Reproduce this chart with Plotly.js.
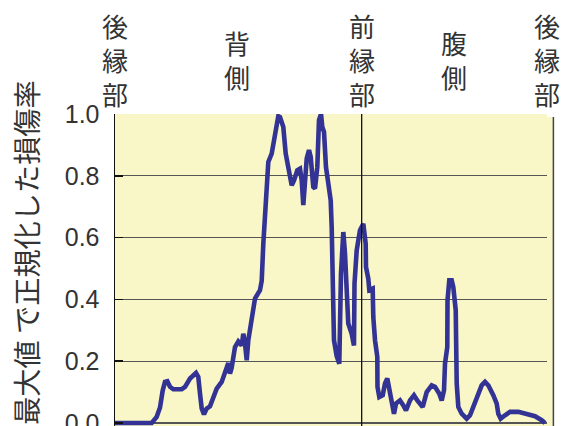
<!DOCTYPE html>
<html>
<head>
<meta charset="utf-8">
<script src="https://cdn.plot.ly/plotly-3.0.1.min.js"></script>
<style>
  html, body { margin: 0; padding: 0; background: #ffffff; }
  #chart { width: 571px; height: 426px; }
</style>
</head>
<body>
<div id="chart"></div>
<script>
// Position along the blade surface (% of total perimeter, trailing edge -> suction side -> leading edge -> pressure side -> trailing edge)
const position = [
  0, 8.5, 9.65, 10.42, 11.04, 11.57, 12.11, 12.73, 13.5, 15.44,
  16.2, 17.36, 18.75, 19.28, 19.68, 20.07, 20.6, 21.23, 21.99, 22.92,
  23.54, 24.7, 25.69, 26.23, 26.62, 27.01, 27.78, 28.54, 29.33, 29.7,
  30.09, 30.49, 30.86, 31.64, 32.41, 33.56, 33.96, 34.33, 34.65, 35.02,
  35.49, 36.27, 37.04, 37.8, 38.19, 38.96, 39.51, 40.35, 40.9, 41.44,
  42.2, 42.82, 43.22, 43.59, 43.98, 44.38, 44.91, 45.3, 45.9, 46.3,
  46.83, 47.22, 47.69, 47.99, 48.38, 48.84, 49.38, 49.93, 50.16, 50.39,
  50.69, 51.32, 51.92, 52.31, 52.85, 53.24, 53.63, 54.0, 54.79, 55.32,
  55.44, 55.95, 56.71, 57.48, 58.03, 58.1, 58.63, 58.87, 59.65, 59.79,
  60.19, 60.72, 60.76, 61.18, 61.97, 62.5, 63.03, 63.5, 64.05, 64.58,
  65.05, 65.97, 66.74, 67.36, 68.29, 69.21, 69.98, 71.23, 72.15, 73.31,
  74.07, 75.07, 75.62, 76.16, 76.39, 76.92, 76.97, 77.38, 77.94, 78.31,
  78.87, 78.89, 79.1, 79.47, 80.25, 81.41, 82.18, 82.94, 84.1, 84.88,
  85.65, 86.41, 87.57, 88.36, 88.73, 89.28, 90.28, 91.44, 93.36, 95.3,
  97.22, 98.77, 99.54
];

// Damage rate normalised by its maximum
const damage = [
  0, 0, 0.02, 0.05, 0.105, 0.133, 0.135, 0.117, 0.109, 0.109,
  0.117, 0.144, 0.162, 0.149, 0.095, 0.047, 0.028, 0.047, 0.054, 0.084,
  0.111, 0.133, 0.168, 0.194, 0.16, 0.179, 0.246, 0.264, 0.251, 0.289,
  0.257, 0.203, 0.268, 0.343, 0.403, 0.43, 0.46, 0.58, 0.64, 0.72,
  0.845, 0.872, 0.926, 0.993, 0.99, 0.958, 0.872, 0.812, 0.769, 0.785,
  0.818, 0.823, 0.785, 0.705, 0.775, 0.856, 0.883, 0.861, 0.764, 0.759,
  0.828, 0.98, 1.0, 0.958, 0.942, 0.828, 0.775, 0.72, 0.634, 0.397,
  0.268, 0.216, 0.192, 0.483, 0.618, 0.548, 0.451, 0.322, 0.289, 0.251,
  0.451, 0.559, 0.624, 0.645, 0.58, 0.505, 0.467, 0.43, 0.435, 0.343,
  0.268, 0.214, 0.117, 0.084, 0.09, 0.128, 0.144, 0.106, 0.063, 0.03,
  0.063, 0.073, 0.057, 0.041, 0.073, 0.09, 0.073, 0.052, 0.1, 0.122,
  0.117, 0.095, 0.073, 0.106, 0.192, 0.246, 0.397, 0.462, 0.462, 0.44,
  0.365, 0.235, 0.128, 0.052, 0.03, 0.014, 0.025, 0.052, 0.09, 0.122,
  0.133, 0.122, 0.09, 0.063, 0.03, 0.014, 0.025, 0.036, 0.036, 0.03,
  0.022, 0.009, 0.0
];

// Surface region labels along the top and where they sit
const regionLabels = ['後<br>縁<br>部', '背<br>側', '前<br>縁<br>部', '腹<br>側', '後<br>縁<br>部'];
const regionPositions = [0, 28.2, 57.1, 78.5, 100];
const leadingEdge = 57.1;

const yTickValues = [0, 0.2, 0.4, 0.6, 0.8, 1.0];
const yTickLabels = ['0.0', '0.2', '0.4', '0.6', '0.8', '1.0'];
const yTitle = '最大値 で正規化した損傷率';

const cjkFont = '"Noto Sans CJK JP", "Noto Sans", sans-serif';
const numFont = '"Liberation Sans", Arial, sans-serif';
const textColor = '#333333';
const fillYellow = '#f9f6c7';

const trace = {
  x: position,
  y: damage,
  type: 'scatter',
  mode: 'lines',
  line: { color: '#323394', width: 4.6 },
  hoverinfo: 'skip',
  cliponaxis: false
};

const annotations = regionLabels.map((t, i) => ({
  text: t,
  x: regionPositions[i],
  xref: 'x',
  y: 1.176,
  yref: 'paper',
  xanchor: 'center',
  yanchor: 'middle',
  showarrow: false,
  font: { family: cjkFont, size: 26, color: textColor }
}));

annotations.push({
  text: yTitle,
  textangle: -90,
  x: -0.206,
  xref: 'paper',
  y: 0.555,
  yref: 'paper',
  xanchor: 'center',
  yanchor: 'middle',
  showarrow: false,
  font: { family: cjkFont, size: 28.2, color: textColor }
});

const layout = {
  width: 571,
  height: 426,
  margin: { l: 115, r: 24, t: 114, b: 0, pad: 0 },
  paper_bgcolor: '#ffffff',
  plot_bgcolor: fillYellow,
  showlegend: false,
  xaxis: {
    range: [0, 100],
    visible: false,
    fixedrange: true
  },
  yaxis: {
    range: [-0.0097, 1.0],
    tickvals: yTickValues,
    ticktext: yTickLabels,
    ticks: 'inside',
    ticklen: 8,
    tickwidth: 1.5,
    tickcolor: '#111111',
    showgrid: true,
    gridcolor: '#555555',
    gridwidth: 1.3,
    zeroline: false,
    showline: true,
    linecolor: '#111111',
    linewidth: 1.5,
    ticklabelstandoff: 9,
    ticklabeloverflow: 'allow',
    tickfont: { family: numFont, size: 25, color: textColor },
    fixedrange: true
  },
  shapes: [
    // leading edge marker
    {
      type: 'line', xref: 'x', yref: 'paper',
      x0: leadingEdge, x1: leadingEdge, y0: 0, y1: 1,
      line: { color: '#111111', width: 1.3 }
    },
    // plot fill extending past the last gridline, with its right border
    {
      type: 'rect', xref: 'paper', yref: 'paper',
      x0: 1, x1: 1.0139, y0: 0, y1: 0.990,
      fillcolor: fillYellow, line: { width: 0 }, layer: 'below'
    },
    {
      type: 'line', xref: 'paper', yref: 'paper',
      x0: 1.0148, x1: 1.0148, y0: 0, y1: 0.990,
      line: { color: '#444444', width: 1.5 }
    }
  ],
  annotations: annotations
};

Plotly.newPlot('chart', [trace], layout, { displayModeBar: false, staticPlot: true });
</script>
</body>
</html>
